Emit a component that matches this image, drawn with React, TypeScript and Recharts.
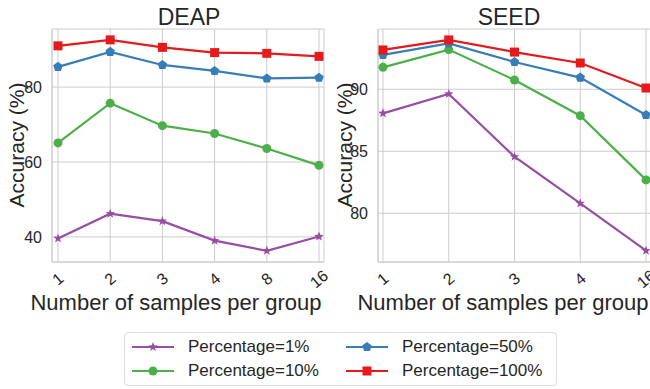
import React from 'react'
import { LineChart, Line, XAxis, YAxis, CartesianGrid } from 'recharts'

const deapGroups = ['1', '2', '3', '4', '8', '16']
const deap1 = [39.6, 46.2, 44.2, 39.0, 36.3, 40.1]
const deap10 = [65.1, 75.7, 69.7, 67.6, 63.6, 59.1]
const deap50 = [85.4, 89.4, 85.9, 84.3, 82.3, 82.5]
const deap100 = [91.0, 92.6, 90.6, 89.2, 89.0, 88.2]

const seedGroups = ['1', '2', '3', '4', '16']
const seed1 = [88.06, 89.62, 84.56, 80.8, 76.98]
const seed10 = [91.77, 93.2, 90.75, 87.87, 82.69]
const seed50 = [92.77, 93.7, 92.2, 90.94, 87.93]
const seed100 = [93.17, 93.98, 93.0, 92.12, 90.1]

const deapTicks = [40, 60, 80]
const seedTicks = [80, 85, 90]

const FONT = '"Liberation Sans", Arial, sans-serif'
const TEXT = '#262626'
const GRID = '#cccccc'

const seriesDefs = [
  { key: 'p1', name: 'Percentage=1%', color: '#984ea3', marker: 'star' },
  { key: 'p10', name: 'Percentage=10%', color: '#4daf4a', marker: 'circle' },
  { key: 'p50', name: 'Percentage=50%', color: '#377eb8', marker: 'pentagon' },
  { key: 'p100', name: 'Percentage=100%', color: '#e41a1c', marker: 'square' },
]

const buildRows = (groups: string[], a: number[], b: number[], c: number[], d: number[]) =>
  groups.map((g, i) => ({ n: g, p1: a[i], p10: b[i], p50: c[i], p100: d[i] }))

const deapData = buildRows(deapGroups, deap1, deap10, deap50, deap100)
const seedData = buildRows(seedGroups, seed1, seed10, seed50, seed100)

function polyPoints(cx: number, cy: number, n: number, r: number, inner?: number) {
  const pts: string[] = []
  const count = inner ? n * 2 : n
  for (let i = 0; i < count; i++) {
    const rr = inner && i % 2 === 1 ? inner : r
    const a = -Math.PI / 2 + (i * 2 * Math.PI) / count
    pts.push(`${cx + rr * Math.cos(a)},${cy + rr * Math.sin(a)}`)
  }
  return pts.join(' ')
}

function Marker({ cx, cy, type, color }: any) {
  if (cx == null || cy == null) return null
  if (type === 'star') return <polygon points={polyPoints(cx, cy, 5, 5, 2.1)} fill={color} />
  if (type === 'pentagon') return <polygon points={polyPoints(cx, cy, 5, 5)} fill={color} />
  if (type === 'square') return <rect x={cx - 4.5} y={cy - 4.5} width={9} height={9} fill={color} />
  return <circle cx={cx} cy={cy} r={4.5} fill={color} />
}

// tick labels are turned counter-clockwise, as in the source figure
function XTick({ x, y, payload }: any) {
  const ty = y + 9
  return (
    <text
      x={x}
      y={ty}
      transform={`rotate(-40, ${x}, ${ty})`}
      textAnchor="middle"
      dominantBaseline="central"
      fontSize={16}
      fontFamily={FONT}
      fill={TEXT}
    >
      {payload.value}
    </text>
  )
}

function Panel({ data, domain, ticks, width, yWidth, padL, padR, marginRight }: any) {
  return (
    <LineChart
      width={width}
      height={330}
      data={data}
      margin={{ top: 29, right: marginRight, bottom: 0, left: 0 }}
    >
      <CartesianGrid stroke={GRID} strokeWidth={1} />
      <XAxis
        dataKey="n"
        height={68}
        interval={0}
        padding={{ left: padL, right: padR }}
        tickLine={false}
        axisLine={{ stroke: GRID }}
        tick={<XTick />}
      />
      <XAxis xAxisId="top" orientation="top" height={0} tick={false} tickLine={false} axisLine={{ stroke: GRID }} />
      <YAxis
        width={yWidth}
        domain={domain}
        ticks={ticks}
        allowDataOverflow
        tickLine={false}
        tickMargin={4}
        axisLine={{ stroke: GRID }}
        tick={{ fontSize: 16, fill: TEXT, fontFamily: FONT }}
      />
      <YAxis yAxisId="right" orientation="right" width={0} tick={false} tickLine={false} axisLine={{ stroke: GRID }} />
      {seriesDefs.map((s) => (
        <Line
          key={s.key}
          dataKey={s.key}
          name={s.name}
          stroke={s.color}
          strokeWidth={2.2}
          isAnimationActive={false}
          dot={(p: any) => <Marker key={`${s.key}-${p.index}`} cx={p.cx} cy={p.cy} type={s.marker} color={s.color} />}
          activeDot={false}
        />
      ))}
    </LineChart>
  )
}

const labelStyle: React.CSSProperties = {
  position: 'absolute',
  fontFamily: FONT,
  color: TEXT,
  whiteSpace: 'nowrap',
  transform: 'translate(-50%, -50%)',
  lineHeight: 1,
}

function LegendItem({ s }: any) {
  return (
    <div style={{ display: 'flex', alignItems: 'center', height: 24 }}>
      <svg width={44} height={14} style={{ marginRight: 13 }}>
        <line x1={1} y1={7} x2={43} y2={7} stroke={s.color} strokeWidth={2.2} />
        <Marker cx={22} cy={7} type={s.marker} color={s.color} />
      </svg>
      <span style={{ fontSize: 17, fontFamily: FONT, color: TEXT }}>{s.name}</span>
    </div>
  )
}

export default function App() {
  return (
    <div
      style={{
        position: 'fixed',
        left: 0,
        top: 0,
        width: 650,
        height: 389,
        overflow: 'hidden',
        background: '#fff',
      }}
    >
      <div style={{ position: 'absolute', left: 0, top: 0 }}>
        <Panel data={deapData} domain={[33.3, 95.5]} ticks={deapTicks} width={330} yWidth={52} padL={6} padR={5} marginRight={6} />
      </div>
      <div style={{ position: 'absolute', left: 320, top: 0 }}>
        <Panel data={seedData} domain={[76.07, 94.86]} ticks={seedTicks} width={340} yWidth={58} padL={5} padR={7} marginRight={7} />
      </div>

      <div style={{ ...labelStyle, left: 189, top: 17, fontSize: 23 }}>DEAP</div>
      <div style={{ ...labelStyle, left: 509, top: 17, fontSize: 23 }}>SEED</div>
      <div style={{ ...labelStyle, left: 176, top: 303, fontSize: 22 }}>Number of samples per group</div>
      <div style={{ ...labelStyle, left: 503, top: 303, fontSize: 22 }}>Number of samples per group</div>
      <div style={{ ...labelStyle, left: 16, top: 145, fontSize: 21, transform: 'translate(-50%, -50%) rotate(-90deg)' }}>
        Accuracy (%)
      </div>
      <div style={{ ...labelStyle, left: 344, top: 145, fontSize: 21, transform: 'translate(-50%, -50%) rotate(-90deg)' }}>
        Accuracy (%)
      </div>

      <div
        style={{
          position: 'absolute',
          left: 124,
          top: 332,
          width: 433,
          height: 54,
          border: '1px solid #dddddd',
          borderRadius: 4,
          background: '#fff',
          display: 'grid',
          gridTemplateColumns: '214px 210px',
          gridTemplateRows: '24px 24px',
          gridAutoFlow: 'column',
          padding: '2px 0 0 6px',
          boxSizing: 'border-box',
        }}
      >
        {seriesDefs.map((s) => (
          <LegendItem key={s.key} s={s} />
        ))}
      </div>
    </div>
  )
}
